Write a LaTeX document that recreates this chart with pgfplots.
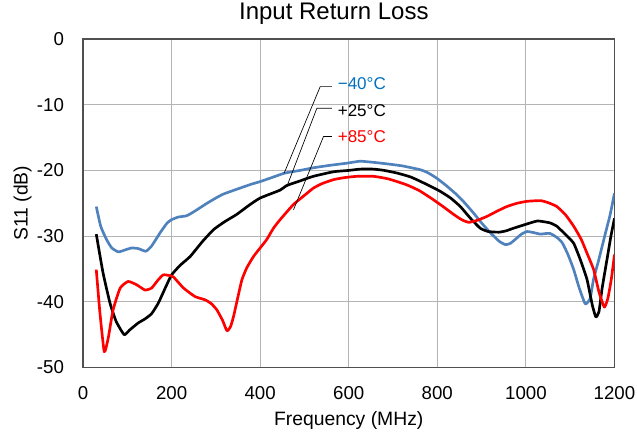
\documentclass[border=0pt]{standalone}
\usepackage{pgfplots}
\pgfplotsset{compat=1.18}
\usepackage{fontspec}
\setmainfont{Liberation Sans}
\definecolor{blueline}{HTML}{4F81BD}
\definecolor{bluetext}{HTML}{0070C0}
\definecolor{gridgray}{RGB}{180,180,180}
\definecolor{framegray}{RGB}{80,80,80}
\begin{document}
\begin{tikzpicture}
\useasboundingbox (-62.25pt,-52.15pt) rectangle (415.5pt,275.65pt);
\begin{axis}[
  at={(0,0)}, anchor=south west,
  scale only axis, width=398.6pt, height=246.4pt,
  xmin=0, xmax=1200, ymin=-50, ymax=0,
  xtick={0,200,400,600,800,1000,1200},
  xticklabels={0,200,400,600,800,1000,1200},
  ytick={-50,-40,-30,-20,-10,0},
  yticklabels={-50,-40,-30,-20,-10,0},
  grid=major,
  major grid style={gridgray, line width=0.75pt},
  axis line style={framegray, line width=1pt},
  major tick length=0pt, tick style={draw=none},
  ticklabel style={font=\fontsize{14}{16}\selectfont},
  xticklabel style={yshift=-10.5pt},
  yticklabel style={xshift=-10.8pt},
  /pgf/number format/assume math mode=true,
  xlabel={Frequency (MHz)}, ylabel={S11 (dB)},
  label style={font=\fontsize{14.5}{16}\selectfont},
  xlabel style={at={(axis description cs:0.5,-0.1598)}, anchor=center},
  ylabel style={at={(axis description cs:-0.1138,0.5)}, anchor=center},
  title={Input Return Loss},
  title style={at={(axis description cs:0.472,1.052)}, anchor=center, font=\fontsize{18}{20}\selectfont},
  every axis plot/.append style={line width=2pt, smooth, tension=0.3, line join=round},
]
% -40 C
\addplot[blueline] coordinates {
(30,-25.5) (40,-28.5) (53,-30.5) (65,-31.8) (80,-32.4) (95,-32.1) (110,-31.8) (125,-31.9)
(142,-32.3) (155,-31.5) (174,-29.5) (190,-28) (200,-27.5) (215,-27.1) (234,-26.9) (250,-26.3)
(280,-25.0) (300,-24.2) (317,-23.6) (350,-22.8) (380,-22.1) (400,-21.7) (430,-21.0) (456,-20.4)
(490,-20.0) (520,-19.6) (560,-19.2) (596,-18.9) (626,-18.6) (660,-18.8) (686,-19.0) (720,-19.3)
(762,-19.9) (780,-20.4) (799,-21.2) (820,-22.3) (844,-23.7) (860,-24.8) (882,-26.5) (900,-28.0)
(920,-29.5) (940,-30.8) (954,-31.3) (965,-31.1) (976,-30.5) (990,-29.7) (1003,-29.3) (1020,-29.5)
(1033,-29.7) (1045,-29.6) (1055,-29.6) (1070,-30.2) (1082,-31.0) (1095,-32.8) (1108,-35.1)
(1120,-37.8) (1134,-40.3) (1145,-39.5) (1153,-36.5) (1165,-33.5) (1176,-30.5) (1190,-26.8) (1200,-23.5)
};
% +25 C
\addplot[black] coordinates {
(30,-29.7) (45,-35.5) (61,-40.2) (75,-43.0) (93,-45.0) (105,-44.3) (114,-43.8) (125,-43.2)
(140,-42.6) (155,-41.8) (170,-40.2) (185,-38.0) (200,-35.9) (220,-34.4) (242,-33.1) (270,-30.8)
(295,-29.0) (320,-27.8) (347,-26.7) (375,-25.3) (400,-24.2) (445,-23.0) (460,-22.3) (490,-21.6)
(520,-20.9) (566,-20.2) (600,-20.0) (626,-19.8) (656,-19.8) (680,-20.0) (709,-20.4) (740,-21.0)
(769,-21.9) (790,-22.6) (807,-23.2) (830,-24.2) (852,-25.5) (875,-27.3) (897,-28.8) (915,-29.3)
(939,-29.4) (955,-29.2) (972,-28.8) (1000,-28.2) (1025,-27.7) (1040,-27.8) (1055,-28.0)
(1070,-28.5) (1093,-30.0) (1108,-31.1) (1123,-33.6) (1138,-36.6) (1150,-40.5) (1158,-42.3)
(1165,-41.5) (1172,-38) (1183,-33.6) (1192,-30.0) (1200,-27.3)
};
% +85 C
\addplot[red] coordinates {
(30,-35.1) (38,-41.5) (48,-47.6) (57,-45.5) (68,-41.2) (84,-37.9) (102,-36.9) (121,-37.4)
(140,-38.2) (155,-37.9) (168,-36.8) (181,-35.9) (195,-36.0) (204,-36.2) (227,-37.9) (253,-39.2)
(276,-39.7) (290,-40.3) (302,-41.2) (315,-42.8) (325,-44.4) (333,-43.8) (340,-42.2) (350,-39.2)
(359,-36.6) (370,-34.8) (385,-33.1) (400,-31.8) (415,-30.5) (430,-28.8) (445,-27.5) (475,-25.2)
(500,-23.8) (520,-22.7) (540,-22.0) (566,-21.4) (590,-21.1) (618,-20.9) (656,-20.9) (690,-21.3)
(731,-22.2) (760,-23.1) (792,-24.5) (815,-25.6) (837,-26.7) (855,-27.5) (871,-27.9) (890,-27.6)
(912,-27.0) (935,-26.2) (957,-25.5) (980,-25.0) (1003,-24.7) (1033,-24.6) (1050,-24.9)
(1070,-25.5) (1090,-26.8) (1108,-28.5) (1125,-30.5) (1138,-32.6) (1153,-35.1) (1165,-38.5)
(1177,-40.8) (1185,-39.5) (1193,-36.5) (1200,-32.8)
};
% leader lines
\draw[black, line width=0.5pt] (axis cs:562,-7.25) -- (axis cs:535.6,-7.25) -- (axis cs:454.2,-20.41);
\draw[black, line width=0.5pt] (axis cs:562,-10.53) -- (axis cs:528.1,-10.53) -- (axis cs:460.3,-22.45);
\draw[black, line width=0.5pt] (axis cs:562,-14.85) -- (axis cs:543,-14.85) -- (axis cs:475.3,-25.99);
\node[anchor=west, inner sep=0pt, text=bluetext, font=\fontsize{12.8}{14}\selectfont] at (axis cs:574.7,-6.73) {−40°C};
\node[anchor=west, inner sep=0pt, text=black, font=\fontsize{12.8}{14}\selectfont] at (axis cs:574.7,-10.9) {+25°C};
\node[anchor=west, inner sep=0pt, text=red, font=\fontsize{12.8}{14}\selectfont] at (axis cs:574.7,-14.85) {+85°C};
\end{axis}
\end{tikzpicture}
\end{document}
